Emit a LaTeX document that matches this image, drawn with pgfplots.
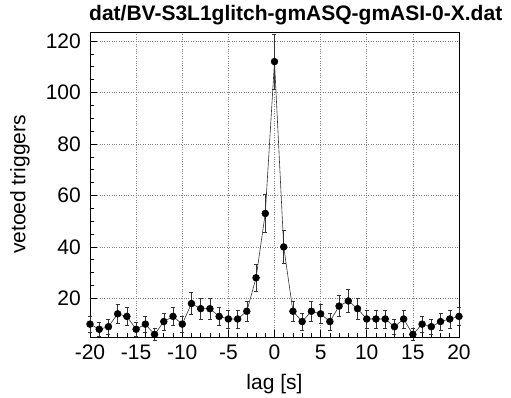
\documentclass[border=0pt]{standalone}
\usepackage{pgfplots}
\pgfplotsset{compat=1.18}
\usepackage{fontspec}
\setmainfont{Liberation Sans}
\pgfplotstableread{
x y e
-20 10 3.16
-19 8 2.83
-18 9 3.00
-17 14 3.74
-16 13 3.61
-15 8 2.83
-14 10 3.16
-13 6 2.45
-12 11 3.32
-11 13 3.61
-10 10 3.16
-9 18 4.24
-8 16 4.00
-7 16 4.00
-6 13 3.61
-5 12 3.46
-4 12 3.46
-3 15 3.87
-2 28 5.29
-1 53 7.28
0 112 10.58
1 40 6.32
2 15 3.87
3 11 3.32
4 15 3.87
5 14 3.74
6 11 3.32
7 17 4.12
8 19 4.36
9 16 4.00
10 12 3.46
11 12 3.46
12 12 3.46
13 9 3.00
14 12 3.46
15 6 2.45
16 10 3.16
17 9 3.00
18 11 3.32
19 12 3.46
20 13 3.61
}\datatable
\begin{document}
\begin{tikzpicture}
\path[use as bounding box] (-90pt,-61pt) rectangle (421pt,337pt);
\begin{axis}[
  at={(0,0)}, anchor=south west,
  scale only axis, width=369pt, height=305pt,
  xmin=-20, xmax=20, ymin=5, ymax=123.5,
  xtick={-20,-15,...,20}, ytick={20,40,...,120},
  minor x tick num=4, minor y tick num=3,
  xtick pos=left, ytick pos=left,
  tick align=inside,
  major tick length=7pt, minor tick length=4pt,
  grid=major,
  major grid style={dotted, gray, line width=0.6pt},
  axis line style={line width=0.8pt},
  tick style={black, line width=0.6pt},
  ticklabel style={font=\fontsize{21}{24}\selectfont, inner sep=0pt},
  /pgf/number format/assume math mode=true,
  xticklabel style={anchor=base, yshift=-23pt},
  yticklabel style={anchor=east, xshift=-9pt},
  xlabel={lag [s]},
  ylabel={vetoed triggers},
  label style={font=\fontsize{21}{24}\selectfont, inner sep=0pt},
  xlabel style={at={(axis description cs:0.5,0)}, anchor=base, yshift=-53pt},
  ylabel style={at={(axis description cs:0,0.5)}, anchor=center, rotate=0, xshift=0pt, yshift=70pt},
  title={dat/BV-S3L1glitch-gmASQ-gmASI-0-X.dat},
  title style={at={(axis description cs:0,1)}, anchor=base west, inner sep=0pt, font=\bfseries\fontsize{21}{24}\selectfont, yshift=5pt, xshift=-1pt},
  clip=false,
]
\addplot[black!80, line width=0.6pt, mark=*, mark size=3.4pt,
  mark options={fill=black, draw=black},
  error bars/.cd, y dir=both, y explicit,
  error bar style={line width=0.5pt, black!80}, error mark options={rotate=90, mark size=2pt, line width=0.5pt}]
  table[x=x, y=y, y error=e] {\datatable};
\end{axis}
\end{tikzpicture}
\end{document}
